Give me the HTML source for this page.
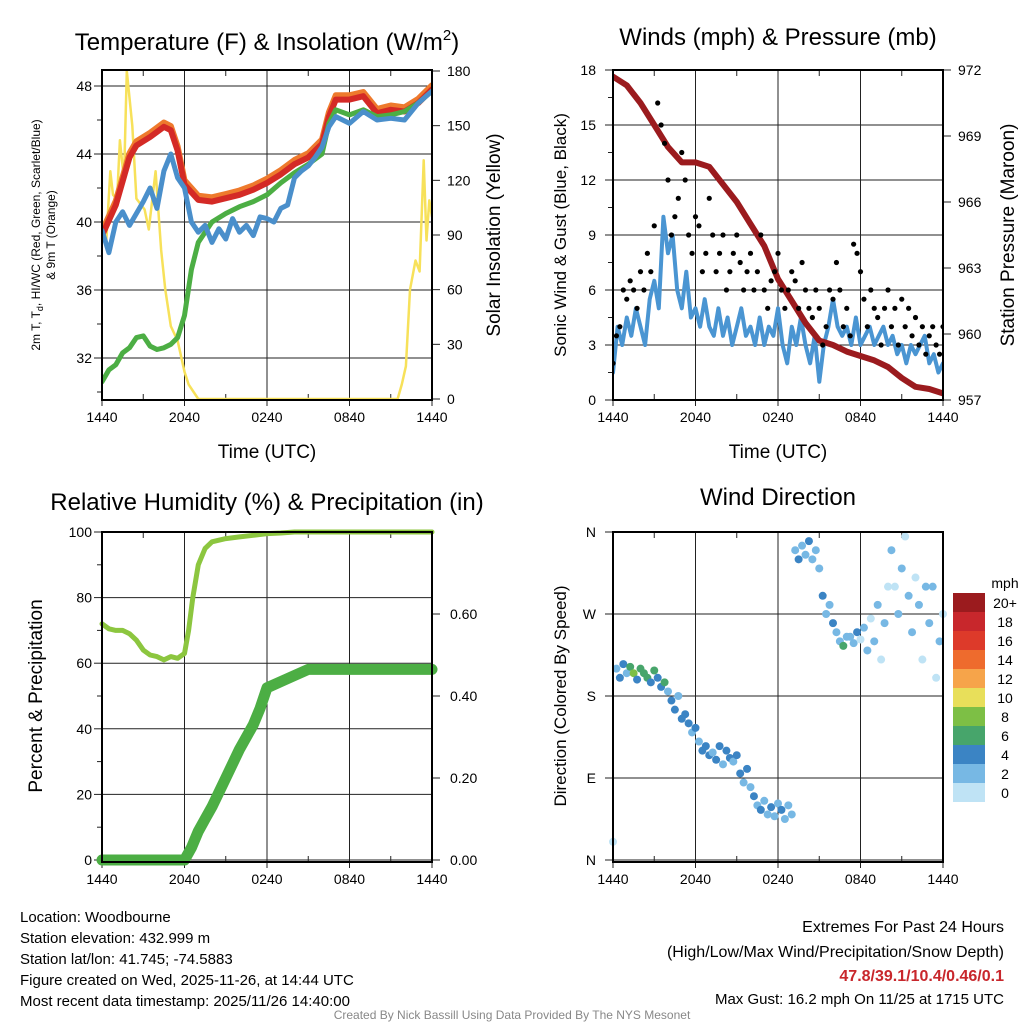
<!DOCTYPE html>
<html><head><meta charset="utf-8"><style>
html,body{margin:0;padding:0;background:#fff;width:1024px;height:1024px;overflow:hidden}
svg text{font-family:"Liberation Sans",Arial,sans-serif;fill:#000}
</style></head><body>
<svg id="chart" width="1024" height="1024" viewBox="0 0 1024 1024" xmlns="http://www.w3.org/2000/svg">
<rect width="1024" height="1024" fill="#fff"/>
<text x="267" y="50" font-size="24" text-anchor="middle">Temperature (F) &amp; Insolation (W/m<tspan font-size="15" dy="-10">2</tspan><tspan dy="10">)</tspan></text>
<text x="778" y="45" font-size="24" text-anchor="middle">Winds (mph) &amp; Pressure (mb)</text>
<text x="267" y="510" font-size="24" text-anchor="middle">Relative Humidity (%) &amp; Precipitation (in)</text>
<text x="778" y="505" font-size="24" text-anchor="middle">Wind Direction</text>
<g id="layer"></g>
<g font-size="15">
<text x="20" y="922">Location: Woodbourne</text>
<text x="20" y="943">Station elevation: 432.999 m</text>
<text x="20" y="964">Station lat/lon: 41.745; -74.5883</text>
<text x="20" y="985">Figure created on Wed, 2025-11-26, at 14:44 UTC</text>
<text x="20" y="1006">Most recent data timestamp: 2025/11/26 14:40:00</text>
</g>
<g font-size="16" text-anchor="end">
<text x="1004" y="932">Extremes For Past 24 Hours</text>
<text x="1004" y="957">(High/Low/Max Wind/Precipitation/Snow Depth)</text>
<text x="1004" y="981" font-weight="bold" style="fill:#c8272c">47.8/39.1/10.4/0.46/0.1</text>
<text x="1004" y="1004" font-size="15">Max Gust: 16.2 mph On 11/25 at 1715 UTC</text>
</g>
<text x="512" y="1019" font-size="12" text-anchor="middle" style="fill:#888">Created By Nick Bassill Using Data Provided By The NYS Mesonet</text>
</svg>
<script>
// ---- data (hours since 1440 UTC) ----
const xTickLabels=["1440","2040","0240","0840","1440"];
const tempHours=[0,1,2,2.5,3.5,4.5,5,5.5,6,7,8,9,10,11,12,13,14,15,16,16.5,17,18,19,20,21,22,23,24];
const tempRed=[39.2,41,43.8,44.5,45,45.6,45.4,44.2,42.2,41.3,41.2,41.4,41.6,41.9,42.3,42.8,43.4,43.8,44.6,46.2,47.2,47.2,47.4,46.4,46.6,46.5,47,47.8];
const dewHours=[0,0.5,1,1.5,2,2.5,3,3.5,4,4.5,5,5.5,6,6.5,7,7.5,8,9,10,11,12,13,14,15,16,16.5,17,18,19,20,21,22,23,24];
const dewGreen=[30.6,31.3,31.6,32.3,32.6,33.2,33.3,32.7,32.5,32.6,32.8,33.2,34.5,37.2,38.8,39.4,40,40.5,40.9,41.2,41.6,42.3,42.9,43.4,44,45.8,46.6,46.3,46.6,46.2,46.3,46.5,47,47.7];
const chillHours=[0,0.5,1,1.5,2,2.5,3,3.5,4,4.5,5,5.5,6,6.5,7,7.5,8,8.5,9,9.5,10,10.5,11,11.5,12,12.5,13,13.5,14,14.5,15,15.5,16,16.5,17,18,19,20,21,22,23,24];
const chillBlue=[39.5,38.2,40,40.6,39.8,40.5,41.2,42,40.8,43,44,42.6,42,40,39.4,39.8,38.8,39.6,39,40.2,39.4,39.8,39.2,40.3,40.2,40,40.8,41,42.6,43,43.3,43.8,44.4,45.6,46.2,45.8,46.5,46,46.1,46,47,47.7];
const solarHours=[0,0.3,0.6,0.8,1.1,1.3,1.6,1.8,2.2,2.5,3.1,3.4,3.9,4.3,4.6,5,5.5,6,6.3,7,12,21.5,21.8,22.1,22.4,22.8,23.1,23.4,23.6,23.8,24];
const solarYellow=[93,85,125,112,110,142,120,180,150,110,104,93,125,82,60,40,32,15,8,0,0,0,8,18,60,76,70,131,87,109,100];
const windBlue=[1.5,4,3,4.5,3.5,5,4,3,5.5,6.5,5,10,8,9,6,5,7,4.5,5,4,5.5,4,3.5,5,3.5,4.5,3,4,5,3.5,4,3,4.5,3,4,3.5,5,3,2,4,3,4.5,3,2,3.5,1,3,4,5.5,4,3.5,4,3,4.5,3,3.5,4,3,3.5,4,3,3.5,2.5,3,2,3,2.5,3,3.5,2,2.5,1.5,2];
const gustDots=[2,3.5,4,6,5.5,6.5,6,5,7,6,8,7,9.5,16.2,15,14,12,9,10,11,13.5,12,9,8,10,9.5,7,8,11,9,7,8,9,6,7,8,9,7.5,6,7,8,6,7,9,6,5,6.5,7,8,6,5,6,7,6.5,5,7.5,6,5,4.5,6,5,3,4,6,5.5,7.5,6,4,5,3.5,8.5,8,7,5.5,4,6,5,4.5,3,5,6,4,5,3,5.5,4,5,3.5,4.5,3,4,2.5,3.5,4,3,2.5,4];
const presHours=[0,1,2,3,4,5,6,7,8,9,10,11,12,13,14,15,16,17,18,19,20,21,22,23,24];
const pressure=[971.7,971.3,970.5,969.5,968.5,967.8,967.8,967.6,966.8,966,965,964,962.5,961.5,960.5,959.7,959.5,959.2,959,958.8,958.5,958,957.6,957.5,957.3];
const rhHours=[0,0.5,1,1.5,2,2.5,3,3.5,4,4.5,5,5.5,6,6.3,6.6,7,7.5,8,9,10,11,12,13,14,24];
const rhValues=[72,70.5,70,70,69,67,64,62.5,62,61,62,61.5,63,70,80,90,95,97,98,98.5,99,99.5,99.7,100,100];
const precipHours=[0,6,6.5,7,7.5,8,9,10,11,11.5,12,13,14,15,24];
const precipValues=[0,0,0.03,0.07,0.1,0.13,0.2,0.27,0.33,0.37,0.42,0.435,0.45,0.465,0.465];
const dirValues=[20,210,200,215,205,212,205,198,210,205,200,195,208,200,190,195,185,175,165,180,155,160,150,140,145,130,120,125,115,118,110,125,105,120,112,108,115,95,85,100,80,70,60,55,65,50,58,48,62,55,45,60,50,340,330,345,335,350,330,340,320,290,270,280,260,250,240,235,245,245,238,250,242,255,230,265,240,280,220,260,300,340,300,270,320,355,290,250,310,280,220,300,260,300,200,240,270];
const dirSpeeds=[1,3,4,5,3,7,8,5,6,7,6,4,7,5,4,6,3,4,5,3,4,4,5,3,4,3,4,5,4,3,4,4,3,4,5,3,4,4,3,4,3,4,3,4,3,2,4,3,3,4,3,2,3,3,4,3,2,4,3,2,3,4,2,3,5,2,3,7,2,3,2,4,1,3,2,1,2,3,1,2,1,2,1,3,2,1,2,3,1,2,1,2,3,2,1,2,1];
const speedBins=["20+","18","16","14","12","10","8","6","4","2","0"];
const binColors=["#9b1b1e","#c8272c","#dd3a2a","#ee6b2d","#f6a44a","#e8df5a","#7dbf45","#47a56b","#3b84c4","#77b8e4","#bfe3f5"];

const NS="http://www.w3.org/2000/svg";
const layer=document.getElementById('layer');
function mk(tag,attrs,parent){const e=document.createElementNS(NS,tag);for(const k in attrs)e.setAttribute(k,attrs[k]);(parent||layer).appendChild(e);return e;}
function txt(x,y,s,size,anchor,parent){const t=mk('text',{x:x,y:y,'font-size':size,'text-anchor':anchor||'middle'},parent);t.textContent=s;return t;}
function xs(x0){return h=>x0+h*330/24;}
function lin(v0,v1,p0,p1){return v=>p0+(v-v0)*(p1-p0)/(v1-v0);}
function line(hours,vals,fx,fy,color,w,name,parent){
  const p=mk('polyline',{points:hours.map((h,i)=>fx(h).toFixed(1)+','+fy(vals[i]).toFixed(1)).join(' '),fill:'none',stroke:color,'stroke-width':w,'stroke-linejoin':'round','stroke-linecap':'round'},parent);
  
  
  return p;
}
function frame(x0,y0,name,hTicks,fy,minorY){
  const g=mk('g',{});
  
  
  const fx=xs(x0);
  hTicks.forEach(v=>mk('line',{x1:x0,x2:x0+330,y1:fy(v),y2:fy(v),stroke:'#222','stroke-width':1},g));
  [6,12,18].forEach(h=>mk('line',{x1:fx(h),x2:fx(h),y1:y0,y2:y0+330,stroke:'#222','stroke-width':1},g));
  [3,9,15,21].forEach(h=>{mk('line',{x1:fx(h),x2:fx(h),y1:y0,y2:y0+6,stroke:'#222'},g);mk('line',{x1:fx(h),x2:fx(h),y1:y0+330,y2:y0+324,stroke:'#222'},g);});
  xTickLabels.forEach((s,i)=>{txt(fx(i*6),y0+352,s,14,'middle',g);mk('line',{x1:fx(i*6),x2:fx(i*6),y1:y0+330,y2:y0+336,stroke:'#222'},g);});
  (minorY||[]).forEach(v=>mk('line',{x1:x0-5,x2:x0,y1:fy(v),y2:fy(v),stroke:'#222'},g));
  return g;
}
function border(x0,y0){const r=mk('rect',{x:x0,y:y0,width:330,height:330,fill:'none',stroke:'#000','stroke-width':2});}

// ---------- Panel 1 ----------
{
 const x0=102,y0=70,fx=xs(x0),fy=lin(32,48,358,86),fs=lin(0,180,399,71);
 const g=frame(x0,y0,'temperature-axes',[32,36,40,44,48],fy,[30,34,38,42,46]);
 [32,36,40,44,48].forEach(v=>{txt(x0-10,fy(v)+5,String(v),14,'end',g);mk('line',{x1:x0-8,x2:x0,y1:fy(v),y2:fy(v),stroke:'#222'},g);});
 [0,30,60,90,120,150,180].forEach(v=>{txt(x0+345,fs(v)+5,String(v),14,'start',g);mk('line',{x1:x0+330,x2:x0+338,y1:fs(v),y2:fs(v),stroke:'#222'},g);});
 const yt=mk('text',{transform:'translate(40,235) rotate(-90)','font-size':12,'text-anchor':'middle'});
 yt.innerHTML='2m T, T<tspan font-size="9" dy="3">d</tspan><tspan dy="-3">, HI/WC (Red, Green, Scarlet/Blue)</tspan>';
 const yt2=txt(0,0,'& 9m T (Orange)',12);yt2.setAttribute('transform','translate(55,235) rotate(-90)');
 const rt=txt(0,0,'Solar Insolation (Yellow)',19);rt.setAttribute('transform','translate(500,235) rotate(-90)');
 const xt=txt(267,458,'Time (UTC)',19);
 const clip=mk('clipPath',{id:'c1'});mk('rect',{x:x0,y:y0,width:330,height:330},clip);
 const cg=mk('g',{'clip-path':'url(#c1)'});
 line(solarHours,solarYellow,fx,fs,'#f7e15a',2.5,'solar-line',cg);
 line(tempHours,tempRed.map(v=>v+0.25),fx,fy,'#ee7a2d',6,'temp-9m-line',cg);
 line(tempHours,tempRed,fx,fy,'#d42a26',6,'temp-2m-line',cg);
 line(dewHours,dewGreen,fx,fy,'#4cae44',5,'dewpoint-line',cg);
 line(chillHours,chillBlue,fx,fy,'#4a8fcb',5,'windchill-line',cg);
 border(x0,y0);
}
// ---------- Panel 2 ----------
{
 const x0=613,y0=70,fx=xs(x0),fy=lin(0,18,400,70),fp=lin(957,972,400,70);
 const g=frame(x0,y0,'wind-axes',[0,3,6,9,12,15,18],fy,[1.5,4.5,7.5,10.5,13.5,16.5]);
 [0,3,6,9,12,15,18].forEach(v=>{txt(x0-17,fy(v)+5,String(v),14,'end',g);mk('line',{x1:x0-8,x2:x0,y1:fy(v),y2:fy(v),stroke:'#222'},g);});
 [957,960,963,966,969,972].forEach(v=>{txt(x0+345,fp(v)+5,String(v),14,'start',g);mk('line',{x1:x0+330,x2:x0+338,y1:fp(v),y2:fp(v),stroke:'#222'},g);});
 const lt=txt(0,0,'Sonic Wind & Gust (Blue, Black)',17);lt.setAttribute('transform','translate(566,235) rotate(-90)');
 const rt=txt(0,0,'Station Pressure (Maroon)',19);rt.setAttribute('transform','translate(1014,235) rotate(-90)');
 const xt=txt(778,458,'Time (UTC)',19);
 const clip=mk('clipPath',{id:'c2'});mk('rect',{x:x0,y:y0,width:330,height:330},clip);
 const cg=mk('g',{'clip-path':'url(#c2)'});
 const wh=windBlue.map((v,i)=>i*24/(windBlue.length-1));
 line(wh,windBlue,fx,fy,'#4a95d2',4,'sonic-wind-line',cg);
 line(presHours,pressure,fx,fp,'#9b1b1e',6,'pressure-line',cg);
 gustDots.forEach((v,i)=>{const c=mk('circle',{cx:fx(i*24/(gustDots.length-1)),cy:fy(v),r:2.6,fill:'#000'},cg);});
 border(x0,y0);
}
// ---------- Panel 3 ----------
{
 const x0=102,y0=532,fx=xs(x0),fy=lin(0,100,860,532),fq=lin(0,0.8,860,532);
 const g=frame(x0,y0,'humidity-axes',[0,20,40,60,80,100],fy,[10,30,50,70,90]);
 [0,20,40,60,80,100].forEach(v=>{txt(x0-10,fy(v)+5,String(v),14,'end',g);mk('line',{x1:x0-8,x2:x0,y1:fy(v),y2:fy(v),stroke:'#222'},g);});
 [0,0.2,0.4,0.6].forEach(v=>{txt(x0+348,fq(v)+5,v.toFixed(2),14,'start',g);mk('line',{x1:x0+330,x2:x0+338,y1:fq(v),y2:fq(v),stroke:'#222'},g);});
 const lt=txt(0,0,'Percent & Precipitation',19);lt.setAttribute('transform','translate(42,696) rotate(-90)');
 const clip=mk('clipPath',{id:'c3'});mk('rect',{x:x0-6,y:y0-6,width:342,height:342},clip);
 const cg=mk('g',{'clip-path':'url(#c3)'});
 line(rhHours,rhValues,fx,fy,'#8cc63f',5,'rh-line',cg);
 line(precipHours,precipValues,fx,fq,'#4cae44',11,'precip-line',cg);
 border(x0,y0);
}
// ---------- Panel 4 ----------
{
 const x0=613,y0=532,fx=xs(x0),fy=lin(0,360,860,532);
 const g=frame(x0,y0,'direction-axes',[0,90,180,270,360],fy,[]);
 ["N","E","S","W","N"].forEach((s,i)=>{txt(x0-17,fy(i*90)+5,s,14,'end',g);mk('line',{x1:x0-8,x2:x0,y1:fy(i*90),y2:fy(i*90),stroke:'#222'},g);});
 const lt=txt(0,0,'Direction (Colored By Speed)',17);lt.setAttribute('transform','translate(566,696) rotate(-90)');
 function col(s){const b=s>=20?0:10-Math.floor(s/2);return binColors[Math.max(0,Math.min(10,b))];}
 dirValues.forEach((d,i)=>{const c=mk('circle',{cx:fx(i*24/(dirValues.length-1)),cy:fy(d),r:4,fill:col(dirSpeeds[i])});});
 border(x0,y0);
 const lg=mk('g',{});
 txt(1005,588,'mph',14,'middle',lg);
 speedBins.forEach((s,i)=>{const y=593+i*19;mk('rect',{x:953,y:y,width:32,height:19,fill:binColors[i]},lg);txt(1005,y+15,s,14,'middle',lg);});
}
</script>
</body></html>
